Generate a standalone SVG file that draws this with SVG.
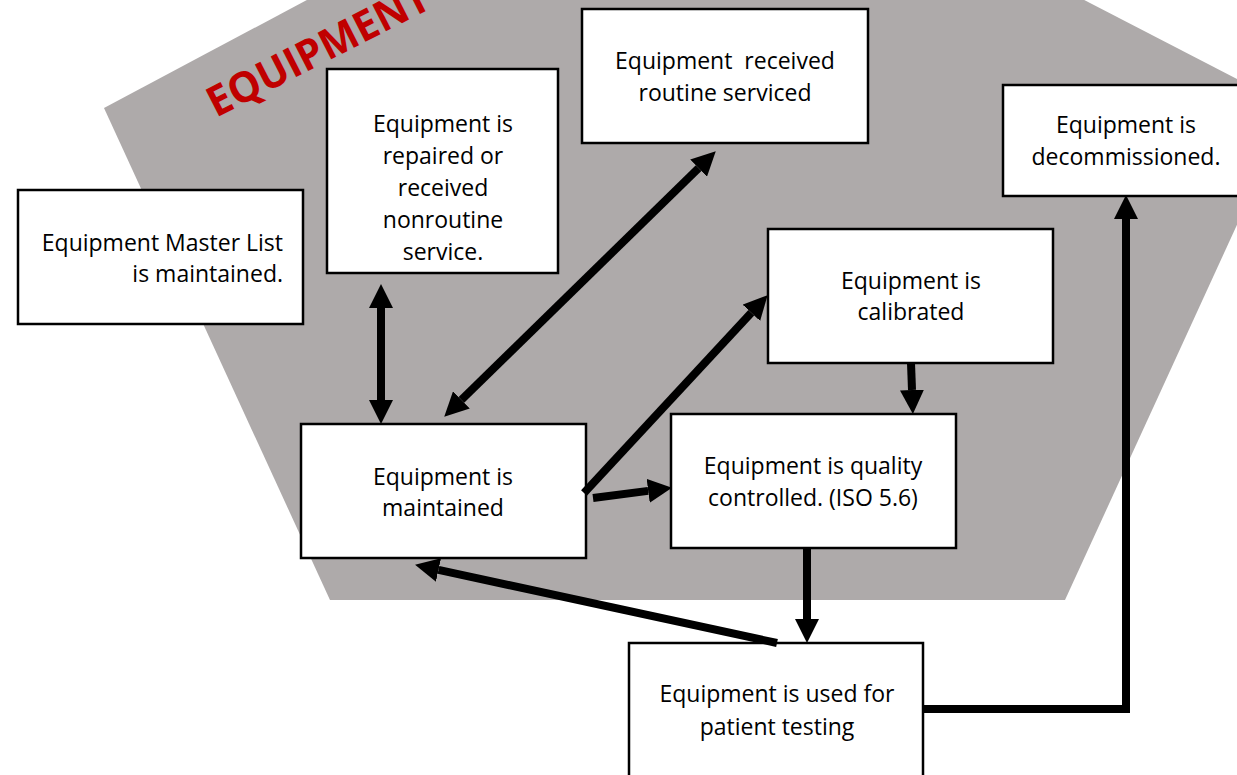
<svg xmlns="http://www.w3.org/2000/svg" width="1237" height="775" viewBox="0 0 1237 775">
<style>
.box{fill:#FFFFFF;stroke:#000000;stroke-width:2.5}
.lbl{font-family:"Open Sans","Liberation Sans",sans-serif;font-size:23px;fill:#000000;text-anchor:middle}
.conn{fill:none;stroke:#000000;stroke-width:8}
.title{font-family:"Open Sans","Liberation Sans",sans-serif;font-weight:bold;font-size:42px;fill:#C00000}
</style>
<defs>
<marker id="ah" viewBox="0 0 24 24" refX="0" refY="12" markerWidth="24" markerHeight="24" markerUnits="userSpaceOnUse" orient="auto-start-reverse">
<path d="M0,0 L24,12 L0,24 Z" fill="#000000"/>
</marker>
</defs>
<g id="background">
<polygon points="104,108 690,-204 1291,107 1065,600 330,600" fill="#AEAAAA"/>
<text class="title" transform="translate(216,118) rotate(-27)" textLength="244" lengthAdjust="spacingAndGlyphs">EQUIPMENT</text>
</g>
<g id="node-master">
<rect class="box" x="18" y="190" width="285" height="134"/>
<text class="lbl" style="text-anchor:end" x="283" y="251">Equipment Master List</text>
<text class="lbl" style="text-anchor:end" x="283" y="282">is maintained.</text>
</g>
<g id="node-repaired">
<rect class="box" x="327" y="69" width="231" height="204"/>
<text class="lbl" x="443" y="132">Equipment is</text>
<text class="lbl" x="443" y="164">repaired or</text>
<text class="lbl" x="443" y="196">received</text>
<text class="lbl" x="443" y="228">nonroutine</text>
<text class="lbl" x="443" y="260">service.</text>
</g>
<g id="node-routine">
<rect class="box" x="582" y="9" width="286" height="134"/>
<text class="lbl" x="725" y="69" xml:space="preserve" style="white-space:pre">Equipment  received</text>
<text class="lbl" x="725" y="101">routine serviced</text>
</g>
<g id="node-decommissioned">
<rect class="box" x="1003" y="85" width="250" height="111"/>
<text class="lbl" x="1126" y="133">Equipment is</text>
<text class="lbl" x="1126" y="165">decommissioned.</text>
</g>
<g id="node-calibrated">
<rect class="box" x="768" y="229" width="285" height="134"/>
<text class="lbl" x="911" y="289">Equipment is</text>
<text class="lbl" x="911" y="320">calibrated</text>
</g>
<g id="node-maintained">
<rect class="box" x="301" y="424" width="285" height="134"/>
<text class="lbl" x="443" y="485">Equipment is</text>
<text class="lbl" x="443" y="516">maintained</text>
</g>
<g id="node-qc">
<rect class="box" x="671" y="414" width="285" height="134"/>
<text class="lbl" x="813" y="474">Equipment is quality</text>
<text class="lbl" x="813" y="506">controlled. (ISO 5.6)</text>
</g>
<g id="node-patient">
<rect class="box" x="629" y="643" width="294" height="150"/>
<text class="lbl" x="777" y="702">Equipment is used for</text>
<text class="lbl" x="777" y="735">patient testing</text>
</g>
<g id="connectors">
<line class="conn" x1="381" y1="308" x2="381" y2="400" marker-start="url(#ah)" marker-end="url(#ah)"/>
<line class="conn" x1="461.4" y1="399.9" x2="698.6" y2="168.1" marker-start="url(#ah)" marker-end="url(#ah)"/>
<line class="conn" x1="584" y1="493" x2="751.3" y2="312.8" marker-end="url(#ah)"/>
<line class="conn" x1="593" y1="498" x2="648.2" y2="490.9" marker-end="url(#ah)"/>
<line class="conn" x1="911" y1="363" x2="912" y2="390" marker-end="url(#ah)"/>
<line class="conn" x1="807" y1="548" x2="807" y2="619" marker-end="url(#ah)"/>
<line class="conn" x1="777" y1="643" x2="438.5" y2="569.9" marker-end="url(#ah)"/>
<polyline class="conn" points="924,709 1126,709 1126,219" stroke-linejoin="miter" marker-end="url(#ah)"/>
</g>
</svg>
